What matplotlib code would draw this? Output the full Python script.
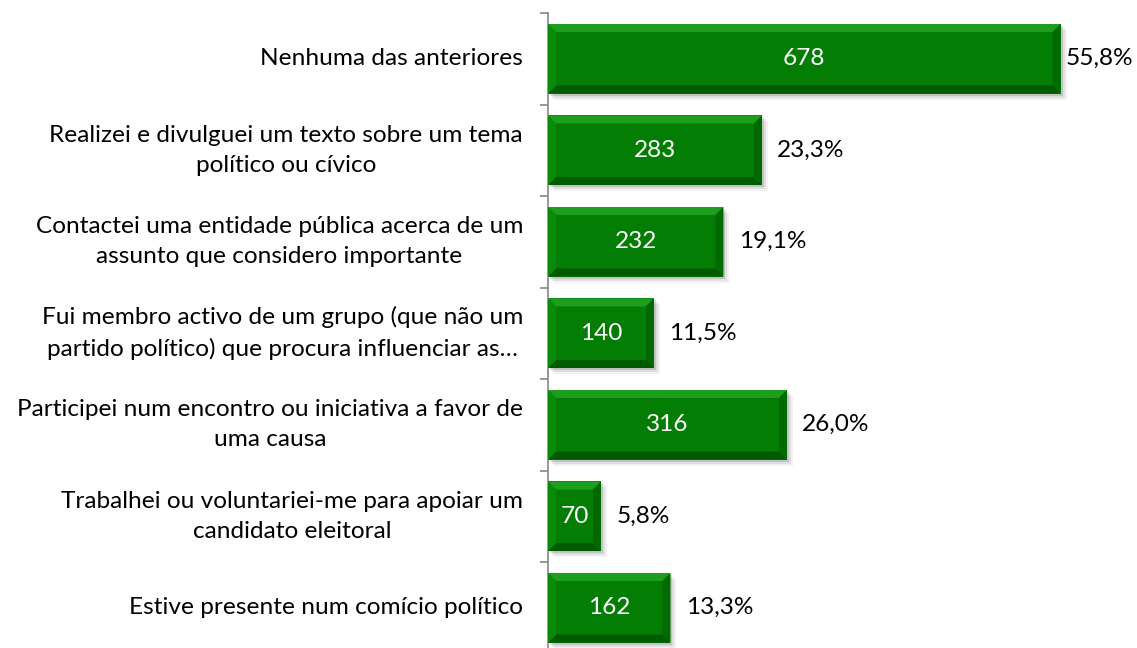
"""Bevelled horizontal bar chart: civic participation actions (count + share)."""
import matplotlib.pyplot as plt
from matplotlib.patches import Polygon, Rectangle
from matplotlib.transforms import blended_transform_factory

categories = [
    "Nenhuma das anteriores",
    "Realizei e divulguei um texto sobre um tema\npolítico ou cívico",
    "Contactei uma entidade pública acerca de um\nassunto que considero importante",
    "Fui membro activo de um grupo (que não um\npartido político) que procura influenciar as…",
    "Participei num encontro ou iniciativa a favor de\numa causa",
    "Trabalhei ou voluntariei-me para apoiar um\ncandidato eleitoral",
    "Estive presente num comício político",
]
counts = [678, 283, 232, 140, 316, 70, 162]
shares = ["55,8%", "23,3%", "19,1%", "11,5%", "26,0%", "5,8%", "13,3%"]

_W, _H, _DPI = 1137, 648, 100
_FONT = "Lato"
_FS = 17.6
_AX_LEFT, _AX_TOP = 548, 13
_BAR_H = 0.76
_BEVEL = 8  # px

plt.rcParams["font.family"] = [_FONT, "DejaVu Sans"]

fig = plt.figure(figsize=(_W / _DPI, _H / _DPI), dpi=_DPI)
ax = fig.add_axes([_AX_LEFT / _W, 0, (_W - _AX_LEFT) / _W, (_H - _AX_TOP) / _H])
ax.set_xlim(0, (_W - _AX_LEFT) / 0.756)
ax.set_ylim((_H - 58.75) / 91.5, -0.5)

# pixel -> data unit conversions
px_x = (ax.get_xlim()[1] - ax.get_xlim()[0]) / (_W - _AX_LEFT)
px_y = (ax.get_ylim()[0] - ax.get_ylim()[1]) / (_H - _AX_TOP)
bx, by = _BEVEL * px_x, _BEVEL * px_y

share_texts = []
for i, v in enumerate(counts):
    y0, y1 = i - _BAR_H / 2, i + _BAR_H / 2
    # soft shadow
    for k, a in [(6, 0.05), (4, 0.08), (2, 0.12)]:
        ax.add_patch(Rectangle((k * px_x, y0 + k * px_y), v, _BAR_H,
                               facecolor="#000000", alpha=a, lw=0, zorder=1))
    ax.add_patch(Rectangle((0, y0), v, _BAR_H, facecolor="#047D04", lw=0, zorder=2))
    # bevel facets
    facets = [
        ([(0, y0), (v, y0), (v - bx, y0 + by), (bx, y0 + by)], "#1E9E1E"),
        ([(0, y1), (v, y1), (v - bx, y1 - by), (bx, y1 - by)], "#005A00"),
        ([(0, y0), (bx, y0 + by), (bx, y1 - by), (0, y1)], "#0A8A0A"),
        ([(v, y0), (v - bx, y0 + by), (v - bx, y1 - by), (v, y1)], "#006A00"),
    ]
    for pts, col in facets:
        ax.add_patch(Polygon(pts, closed=True, facecolor=col, lw=0, zorder=3))
    ax.text(v / 2, i, str(v), color="white", fontsize=_FS,
            ha="center", va="center", zorder=4)
    share_texts.append(
        ax.annotate(shares[i], xy=(v, i), xytext=(11, 0), textcoords="offset points",
                    ha="left", va="center", fontsize=_FS, color="black"))

# category labels
trans = blended_transform_factory(ax.transAxes, ax.transData)
for i, lab in enumerate(categories):
    ax.annotate(lab, xy=(0, i), xycoords=trans, xytext=(-18, 0),
                textcoords="offset points", ha="right", va="center",
                multialignment="center", fontsize=_FS, linespacing=1.55)

# keep the share labels inside the figure, as the source chart does
fig.canvas.draw()
renderer = fig.canvas.get_renderer()
for t in share_texts:
    bb = t.get_window_extent(renderer)
    if bb.x1 > _W - 4:
        t.xyann = (t.xyann[0] - (bb.x1 - (_W - 4)) * 72 / _DPI, 0)

for s in ["top", "right", "bottom"]:
    ax.spines[s].set_visible(False)
ax.spines["left"].set_color("#868686")
ax.spines["left"].set_linewidth(1.2)
ax.set_xticks([])
ax.set_yticks([i - 0.5 for i in range(len(counts))])
ax.set_yticklabels([])
ax.tick_params(axis="y", length=6, width=1.2, color="#868686", direction="out")

fig.savefig("out.png", dpi=_DPI)
plt.close(fig)
